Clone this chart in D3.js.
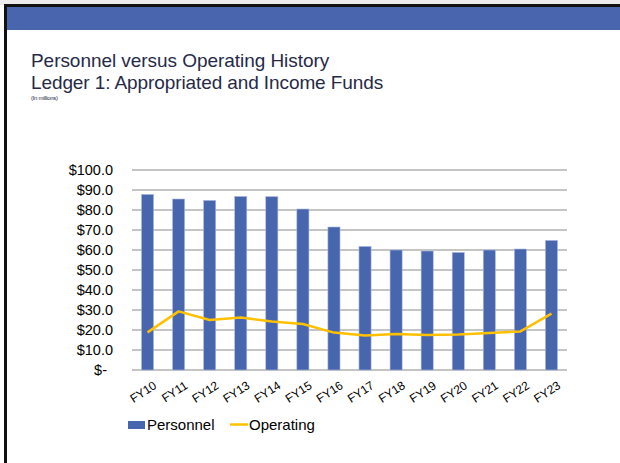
<!DOCTYPE html>
<html>
<head>
<meta charset="utf-8">
<script src="https://cdn.jsdelivr.net/npm/d3@7"></script>
<style>
body { margin: 0; background: #fff; }
text { font-family: "Liberation Sans", Arial, sans-serif; }
</style>
</head>
<body>
<svg id="svg1" width="620" height="463"></svg>
<script>
var years = ["FY10","FY11","FY12","FY13","FY14","FY15","FY16","FY17","FY18","FY19","FY20","FY21","FY22","FY23"];
var personnel = [87.8,85.5,84.8,86.8,86.7,80.5,71.5,61.8,60.0,59.5,58.8,60.0,60.5,64.8];
var operating = [18.8,29.3,25.0,26.2,24.2,23.0,18.7,17.2,18.0,17.5,17.8,18.5,19.3,28.2];
var yTicks = [0,10,20,30,40,50,60,70,80,90,100];

var svg = d3.select("#svg1");

// slide frame
svg.append("rect").attr("x",0).attr("y",0).attr("width",620).attr("height",5).attr("fill","#ececec");
svg.append("rect").attr("x",4).attr("y",4).attr("width",616).attr("height",3).attr("fill","#111");
svg.append("rect").attr("x",7).attr("y",7).attr("width",613).attr("height",23).attr("fill","#4865ad");
svg.append("rect").attr("x",4).attr("y",4).attr("width",3).attr("height",459).attr("fill","#111");

// titles
svg.append("text").attr("x",31).attr("y",67)
    .text("Personnel versus Operating History")
    .style("font-size","19px").style("letter-spacing","-0.05px").style("fill","#262a48");
svg.append("text").attr("x",31).attr("y",89)
    .text("Ledger 1: Appropriated and Income Funds")
    .style("font-size","19px").style("letter-spacing","-0.1px").style("fill","#262a48");
svg.append("text").attr("x",31).attr("y",100)
    .text("(In millions)")
    .style("font-size","6px").style("letter-spacing","-0.3px").style("fill","#262a48");

var x = d3.scaleBand().domain(years).range([132,567]).paddingInner(0.61).paddingOuter(0.305);
var y = d3.scaleLinear().domain([0,100]).range([370,170]);

// gridlines
svg.append("g").selectAll("line")
    .data(yTicks)
    .enter()
    .append("line")
    .attr("x1",132).attr("x2",567)
    .attr("y1",function(d){return y(d);})
    .attr("y2",function(d){return y(d);})
    .style("stroke","#8a8a8a")
    .style("stroke-width","1px");

// y axis labels
var yAxis = d3.axisLeft(y).tickValues(yTicks).tickSize(0).tickPadding(19)
    .tickFormat(function(d){ return d === 0 ? "$-" : "$" + d3.format(".1f")(d); });
var ya = svg.append("g").attr("transform","translate(132,0)").call(yAxis);
ya.select(".domain").remove();
ya.selectAll("text").style("font-size","14.5px").style("fill","#000")
    .style("font-family","'Liberation Sans', Arial, sans-serif")
    .attr("dx",function(d){ return d === 0 ? -6 : 0; });

// bars
svg.append("g").selectAll("rect")
    .data(personnel)
    .enter()
    .append("rect")
    .attr("x",function(d,i){return x(years[i]);})
    .attr("width",x.bandwidth())
    .attr("y",function(d){return y(d);})
    .attr("height",function(d){return y(0)-y(d);})
    .attr("fill","#4866ae")
    .style("stroke","#aebbe0")
    .style("stroke-width","0.6px");

// line
var line = d3.line()
    .x(function(d,i){return x(years[i]) + x.bandwidth()/2;})
    .y(function(d){return y(d);});
svg.append("path")
    .datum(operating)
    .attr("d",line)
    .style("fill","none")
    .style("stroke","#ffc000")
    .style("stroke-width","2.5px")
    .style("stroke-linejoin","round");

// x labels
svg.append("g").selectAll("text")
    .data(years)
    .enter()
    .append("text")
    .text(function(d){return d;})
    .attr("transform",function(d){
        return "translate(" + (x(d) + x.bandwidth()/2 + 5) + ",380) rotate(-33)";
    })
    .style("text-anchor","end")
    .attr("dy","0.75em")
    .style("font-size","12px")
    .style("fill","#000");

// legend
svg.append("rect").attr("x",128).attr("y",421).attr("width",17).attr("height",8).attr("fill","#4866ae");
svg.append("text").attr("x",147).attr("y",430).text("Personnel").style("font-size","15px").style("fill","#000");
svg.append("line").attr("x1",230).attr("x2",248).attr("y1",424.5).attr("y2",424.5)
    .style("stroke","#ffc000").style("stroke-width","2.5px");
svg.append("text").attr("x",249).attr("y",430).text("Operating").style("font-size","15px").style("fill","#000");
</script>
</body>
</html>
